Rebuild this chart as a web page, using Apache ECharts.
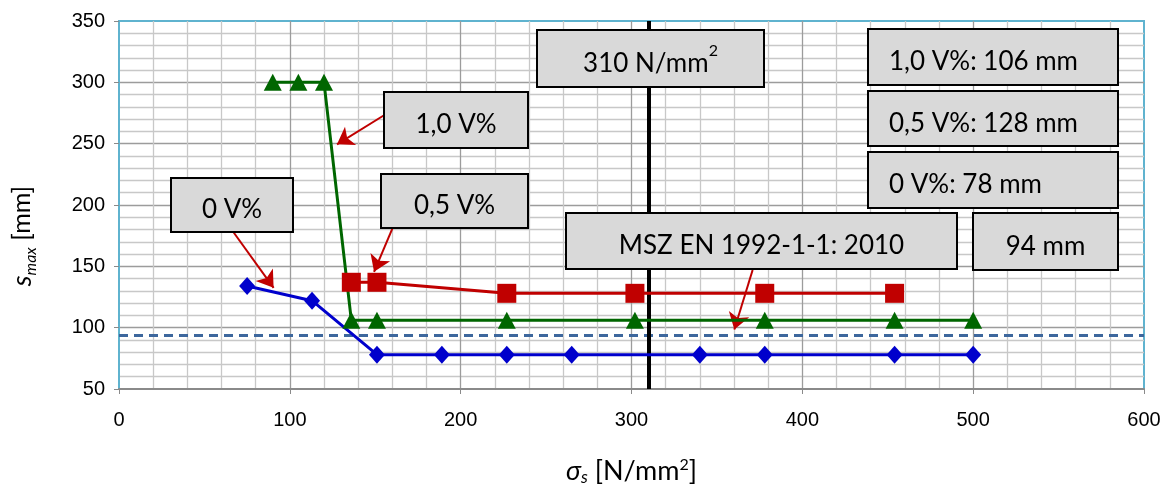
<!DOCTYPE html>
<html><head><meta charset="utf-8">
<script src="https://cdn.jsdelivr.net/npm/echarts@6/dist/echarts.min.js"></script>
<style>html,body{margin:0;padding:0;background:#fff}#c{width:1170px;height:488px}</style>
</head><body><div id="c"></div>
<script>
// ---- data ----
const sigma0 = [75, 113, 151, 189, 227, 265, 340, 378, 454, 500];
const smax0  = [134, 122, 78, 78, 78, 78, 78, 78, 78, 78];
const sigma10 = [90, 105, 120, 136, 151, 227, 302, 378, 454, 500];
const smax10  = [300, 300, 300, 106, 106, 106, 106, 106, 106, 106];
const sigma05 = [136, 151, 227, 302, 378, 454];
const smax05  = [137, 137, 128, 128, 128, 128];
const codeLimit = 94;      // MSZ EN 1992-1-1: 2010
const steelStress = 310;   // N/mm2
const xTicks = [0, 100, 200, 300, 400, 500, 600];
const yTicks = [50, 100, 150, 200, 250, 300, 350];
// arrow annotations [from, to] in data units
const arrows = [
  [[66.4, 179], [90.5, 132.5]],
  [[156.1, 274], [127.6, 249.5]],
  [[160.5, 182.3], [149.3, 145.5]],
  [[370.9, 147], [360.2, 98.5]]
];

const BOXFONT = 'Lato';
const chart = echarts.init(document.getElementById('c'));

function pair(xs, ys) { return xs.map((x, i) => [x, ys[i]]); }

const boxRich = {
  n: { fontFamily: BOXFONT, fontSize: 26, color: '#000', lineHeight: 34, verticalAlign: 'bottom' },
  sup: { fontFamily: BOXFONT, fontSize: 16, color: '#000', lineHeight: 34, verticalAlign: 'top' }
};
function box(x, y, w, h, text, align) {
  return {
    type: 'group', x: x, y: y, z: 100,
    children: [
      { type: 'rect', z: 100, shape: { x: 0, y: 0, width: w, height: h },
        style: { fill: '#d9d9d9', stroke: '#000', lineWidth: 2 } },
      { type: 'text', z: 101, x: align === 'left' ? 21 : w / 2, y: h / 2 + 1,
        style: { text: text, align: align || 'center', textAlign: align || 'center',
                 verticalAlign: 'middle', textVerticalAlign: 'middle', rich: boxRich } }
    ]
  };
}

const option = {
  animation: false,
  backgroundColor: '#fff',
  grid: { left: 119, right: 26, top: 21, bottom: 99, outerBoundsMode: 'none', containLabel: false,
          show: true, borderColor: '#5fb3cf', borderWidth: 2, backgroundColor: 'transparent' },
  xAxis: {
    type: 'value', min: xTicks[0], max: xTicks[xTicks.length - 1], interval: 100,
    axisLine: { show: true, onZero: false, lineStyle: { color: '#8a8a8a', width: 2 } },
    axisTick: { show: true, length: 5, lineStyle: { color: '#8a8a8a', width: 1 } },
    axisLabel: { fontFamily: 'Liberation Sans', fontSize: 20, color: '#000', margin: 21 },
    splitLine: { show: true, showMinLine: false, showMaxLine: false, lineStyle: { color: '#9c9c9c', width: 1.3 } },
    minorTick: { show: false, splitNumber: 5 },
    minorSplitLine: { show: true, lineStyle: { color: '#c8c8c8', width: 1.3 } },
    name: '{i|σ}{sub|s}{n| [N/mm}{sup|2}{n|]}',
    nameLocation: 'middle', nameGap: 68,
    nameTextStyle: {
      rich: {
        i: { fontFamily: BOXFONT, fontStyle: 'italic', fontSize: 27, color: '#000', lineHeight: 29, verticalAlign: 'middle' },
        n: { fontFamily: BOXFONT, fontSize: 27, color: '#000', lineHeight: 29, verticalAlign: 'middle' },
        sub: { fontFamily: BOXFONT, fontStyle: 'italic', fontSize: 17, color: '#000', lineHeight: 29, verticalAlign: 'bottom' },
        sup: { fontFamily: BOXFONT, fontSize: 16, color: '#000', lineHeight: 29, verticalAlign: 'top' }
      }
    }
  },
  yAxis: {
    type: 'value', min: yTicks[0], max: yTicks[yTicks.length - 1], interval: 50,
    axisLine: { show: true, lineStyle: { color: '#5fb3cf', width: 2 } },
    axisTick: { show: true, length: 5, lineStyle: { color: '#8a8a8a', width: 1 } },
    axisLabel: { fontFamily: 'Liberation Sans', fontSize: 20, color: '#000', margin: 14 },
    splitLine: { show: true, showMinLine: false, showMaxLine: false, lineStyle: { color: '#9c9c9c', width: 1.3 } },
    minorTick: { show: false, splitNumber: 5 },
    minorSplitLine: { show: true, lineStyle: { color: '#c8c8c8', width: 1.3 } }
  },
  series: [
    { name: '0 V%', type: 'line', data: pair(sigma0, smax0), symbol: 'diamond', symbolSize: [16, 18],
      lineStyle: { color: '#0000cc', width: 3 }, itemStyle: { color: '#0000cc' }, z: 5 },
    { name: '1,0 V%', type: 'line', data: pair(sigma10, smax10), symbol: 'triangle', symbolSize: [18, 17],
      lineStyle: { color: '#006600', width: 3 }, itemStyle: { color: '#006600' }, z: 5 },
    { name: '0,5 V%', type: 'line', data: pair(sigma05, smax05), symbol: 'rect', symbolSize: 19,
      lineStyle: { color: '#c00000', width: 3 }, itemStyle: { color: '#c00000' }, z: 5 },
    { name: 'refs', type: 'line', data: [], z: 4,
      markLine: { silent: true, symbol: 'none', animation: false, label: { show: false },
        data: [
          { yAxis: codeLimit, lineStyle: { color: '#3d679d', type: [9, 6], width: 3 } },
          { xAxis: steelStress, lineStyle: { color: '#000', type: 'solid', width: 4 } }
        ] } },
    { name: 'arrows', type: 'line', data: [], z: 6,
      markLine: { silent: true, symbol: ['none', 'arrow'], symbolSize: 16, animation: false, label: { show: false },
        lineStyle: { color: '#c00000', width: 2, type: 'solid' },
        data: arrows.map(a => [{ coord: a[0] }, { coord: a[1] }]) } }
  ],
  graphic: [
    box(171, 178, 122, 54, '{n|0 V%}'),
    box(384, 92, 144, 56, '{n|1,0 V%}'),
    box(381, 174, 147, 54, '{n|0,5 V%}'),
    box(537, 30, 227, 57, '{n|310 N/mm}{sup|2}'),
    box(566, 213, 391, 56, '{n|MSZ EN 1992-1-1: 2010}'),
    box(868, 29, 250, 56, '{n|1,0 V%: 106 mm}', 'left'),
    box(868, 91, 250, 55, '{n|0,5 V%: 128 mm}', 'left'),
    box(868, 152, 250, 56, '{n|0 V%: 78 mm}', 'left'),
    box(973, 213, 145, 57, '{n|94 mm}'),
    { type: 'text', x: 22, y: 236, rotation: Math.PI / 2, z: 50,
      style: { text: '{i|s}{sub|max}{n| [mm]}', align: 'center', textAlign: 'center', verticalAlign: 'middle', textVerticalAlign: 'middle',
        rich: {
          i: { fontFamily: BOXFONT, fontStyle: 'italic', fontSize: 27, color: '#000', lineHeight: 34, verticalAlign: 'middle' },
          sub: { fontFamily: BOXFONT, fontStyle: 'italic', fontSize: 16, color: '#000', lineHeight: 34, verticalAlign: 'bottom' },
          n: { fontFamily: BOXFONT, fontSize: 25, color: '#000', lineHeight: 34, verticalAlign: 'middle' }
        } } }
  ]
};
chart.setOption(option);
</script>
</body></html>
